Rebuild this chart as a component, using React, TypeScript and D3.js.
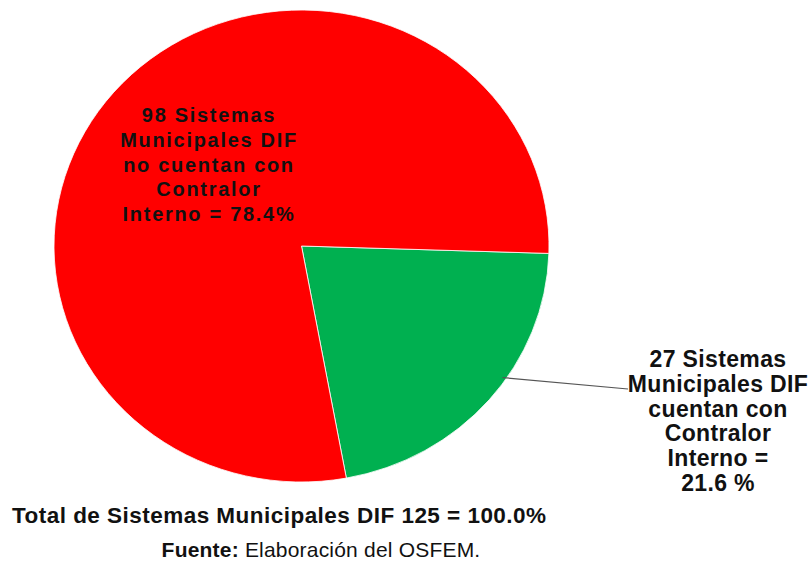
import React from "react";
import * as d3 from "d3";

const categories: string[] = ["cuentan con Contralor Interno", "no cuentan con Contralor Interno"];
const values: number[] = [27, 98];
const colors: string[] = ["#00B050", "#FF0000"];
const greenLabel: string[] = ["27 Sistemas", "Municipales DIF", "cuentan con", "Contralor", "Interno =", "21.6 %"];
const redLabel: string[] = ["98 Sistemas", "Municipales DIF", "no cuentan con", "Contralor", "Interno = 78.4%"];
const totalText = "Total de Sistemas Municipales DIF 125 = 100.0%";

export default function App() {
  const W = 811, H = 563;
  const cx = 301.5, cy = 246, rx = 247.5, ry = 236;
  const R = 100;
  const start = (91.8 * Math.PI) / 180;
  const pie = d3.pie<number>().sort(null).startAngle(start).endAngle(start + 2 * Math.PI);
  const arcs = pie(values);
  const arc = d3.arc<d3.PieArcDatum<number>>().innerRadius(0).outerRadius(R);
  const g = arcs[0];
  const midA = g.startAngle + (g.endAngle - g.startAngle) * 0.42;
  const ax = cx + Math.sin(midA) * rx * 0.985;
  const ay = cy - Math.cos(midA) * ry * 0.985;
  const font = "Arial, 'Liberation Sans', Helvetica, sans-serif";
  return (
    <svg width={W} height={H} style={{ position: "absolute", left: 0, top: 0, background: "#fff" }}>
      <rect x={0} y={0} width={W} height={H} fill="#fff" />
      <g transform={`translate(${cx},${cy}) scale(${rx / R},${ry / R})`}>
        {arcs.map((a, i) => (
          <path key={categories[i]} d={arc(a) || ""} fill={colors[i]} stroke="#ffffff" strokeWidth={0.8} vectorEffect="non-scaling-stroke" />
        ))}
      </g>
      <line x1={ax} y1={ay} x2={628} y2={389} stroke="#555" strokeWidth={1.2} />
      <text x={209} y={122} textAnchor="middle" fontFamily={font} fontWeight="bold" fontSize={20} letterSpacing={1.7} fill="#111">
        {redLabel.map((t, i) => (
          <tspan key={i} x={209} y={122 + i * 24.8}>{t}</tspan>
        ))}
      </text>
      <text x={718} y={367} textAnchor="middle" fontFamily={font} fontWeight="bold" fontSize={23} letterSpacing={0.35} fill="#111">
        {greenLabel.map((t, i) => (
          <tspan key={i} x={718} y={367 + i * 24.8}>{t}</tspan>
        ))}
      </text>
      <text x={12} y={523} fontFamily={font} fontWeight="bold" fontSize={22.5} letterSpacing={0.47} fill="#111">{totalText}</text>
      <text x={321} y={557} textAnchor="middle" fontFamily={font} fontSize={21} letterSpacing={0.2} fill="#111">
        <tspan fontWeight="bold">Fuente:</tspan>
        <tspan> Elaboración del OSFEM.</tspan>
      </text>
    </svg>
  );
}
